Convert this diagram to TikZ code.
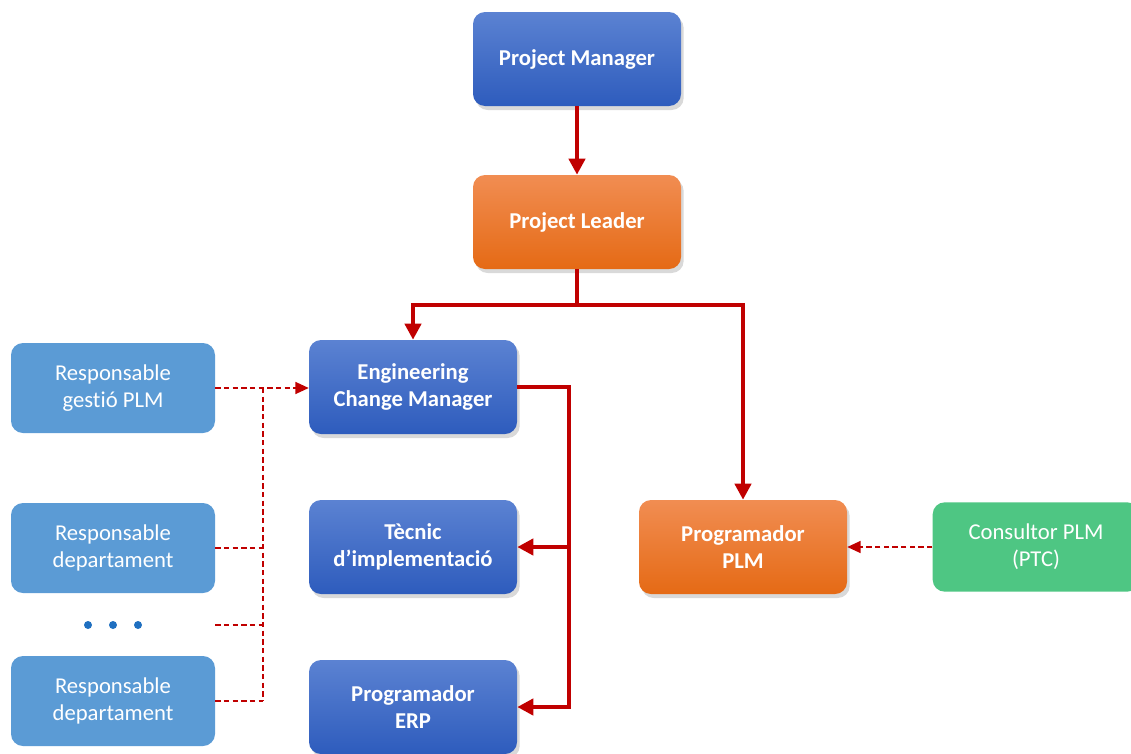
\documentclass[tikz,border=0pt]{standalone}
\usepackage{fontspec}
\setmainfont{Carlito}[Ligatures={NoCommon}]
\usetikzlibrary{arrows.meta,shadows}

\definecolor{bluetop}{HTML}{5B82D2}
\definecolor{bluebot}{HTML}{2E5CBD}
\definecolor{orangetop}{HTML}{F18D52}
\definecolor{orangebot}{HTML}{E56A15}
\definecolor{sideblue}{HTML}{5B9BD5}
\definecolor{consultgreen}{HTML}{4EC683}
\definecolor{linkred}{HTML}{C00000}
\definecolor{dotblue}{HTML}{1F6FC0}

\tikzset{
  box/.style={rectangle, rounded corners=9pt, minimum width=156pt,
    minimum height=70.5pt, inner sep=0pt, align=center, text=white,
    font=\fontsize{17}{20}\selectfont},
  mainbox/.style={box, font=\fontsize{17}{20}\selectfont\bfseries,
    drop shadow={opacity=0.3, shadow xshift=2pt, shadow yshift=-3pt}},
  bluebox/.style={mainbox, top color=bluetop, bottom color=bluebot},
  orangebox/.style={mainbox, top color=orangetop, bottom color=orangebot},
  sidebox/.style={box, fill=sideblue, minimum width=153pt, minimum height=67.5pt},
  consultbox/.style={box, fill=consultgreen, minimum width=155pt, minimum height=67pt},
  link/.style={draw=linkred, line width=3pt,
    -{Triangle[width=12pt,length=12pt]}},
  bus/.style={draw=linkred, line width=3pt},
  dlink/.style={draw=linkred, line width=1pt, dash pattern=on 4pt off 2.5pt,
    -{Triangle[width=9pt,length=10pt]}},
  dbus/.style={draw=linkred, line width=1pt, dash pattern=on 4pt off 2.5pt},
}

\begin{document}
\begin{tikzpicture}[x=0.75pt, y=-0.75pt]
  \useasboundingbox (0,0) rectangle (1131,753);

  % main chain
  \node[bluebox]   (pm)  at (577,59)  {Project Manager};
  \node[orangebox] (pl)  at (577,222) {Project Leader};
  \node[bluebox]   (ecm) at (413,387) {Engineering\\Change Manager};
  \node[bluebox]   (tec) at (413,547) {Tècnic\\d’implementació};
  \node[bluebox]   (erp) at (413,707) {Programador\\ERP};
  \node[orangebox] (plm) at (743,547) {Programador\\PLM};

  % side roles
  \node[sidebox] (rg)  at (113,388) {Responsable\\gestió PLM};
  \node[sidebox] (rd1) at (113,548) {Responsable\\departament};
  \node[minimum width=153pt, minimum height=10pt, inner sep=0pt] (dots) at (113,625) {};
  \node[sidebox] (rd2) at (113,701) {Responsable\\departament};
  \node[consultbox] (cons) at (1036,547) {Consultor PLM\\(PTC)};

  \foreach \dx in {-25,0,25}
    \fill[dotblue] ([xshift=\dx*0.75pt]dots.center) circle (3pt);

  % reporting lines
  \draw[link] (pm) -- (pl);
  \coordinate (split) at (577,305);
  \draw[bus] (pl.south) -- (split);
  \draw[link] (split) -| (ecm.north);
  \draw[link] (split) -| (plm.north);

  \coordinate (rbus) at (569,387);
  \draw[bus] (ecm.east) -- (rbus) -- (rbus |- tec.east);
  \draw[link] (rbus |- tec.east) |- (erp.east);
  \draw[link] (rbus |- tec.east) -- (tec.east);

  % dashed support lines
  \coordinate (lbus) at (263,388);
  \draw[dlink] (rg.east) -- (ecm.west |- rg.east);
  \draw[dbus] (lbus) -- (lbus |- rd2.east);
  \draw[dbus] (rd1.east) -- (lbus |- rd1.east);
  \draw[dbus] (dots.east) -- (lbus |- dots.east);
  \draw[dbus] (rd2.east) -- (lbus |- rd2.east);
  \draw[dlink] (cons.west) -- (plm.east);
\end{tikzpicture}
\end{document}
